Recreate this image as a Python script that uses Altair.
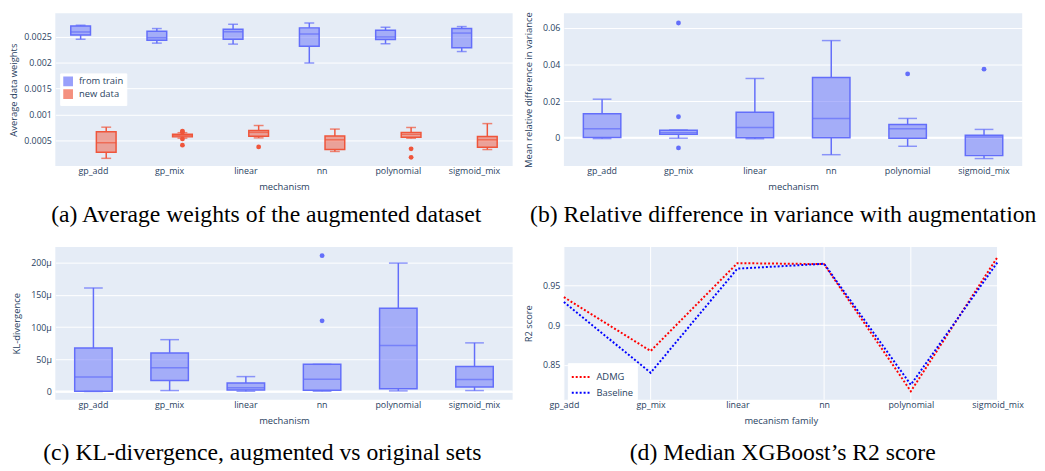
import altair as alt
import pandas as pd

# ---------------- data ----------------
mechs = ["gp_add", "gp_mix", "linear", "nn", "polynomial", "sigmoid_mix"]
groups_a = ["from train", "new data"]

# (a) Average data weights: from train
a_tr_lo = [0.00245, 0.002375, 0.002356, 0.001994, 0.002363, 0.002213]
a_tr_q1 = [0.00253, 0.00243, 0.00245, 0.002313, 0.002444, 0.002288]
a_tr_md = [0.00259, 0.00248, 0.002594, 0.00255, 0.002494, 0.002569]
a_tr_q3 = [0.002706, 0.002606, 0.002644, 0.002669, 0.002625, 0.002656]
a_tr_hi = [0.00272, 0.002656, 0.002738, 0.002763, 0.002681, 0.002694]
# (a) new data
a_nw_lo = [0.000156, 0.000544, 0.00055, 0.000288, 0.000544, 0.000325]
a_nw_q1 = [0.000275, 0.000569, 0.000581, 0.000325, 0.000563, 0.000369]
a_nw_md = [0.000456, 0.000595, 0.000656, 0.000513, 0.000619, 0.000513]
a_nw_q3 = [0.000669, 0.000619, 0.000694, 0.000588, 0.000656, 0.000575]
a_nw_hi = [0.000756, 0.00065, 0.000788, 0.000719, 0.00075, 0.000825]
a_out_mech = ["gp_mix", "gp_mix", "gp_mix", "gp_mix", "linear", "polynomial", "polynomial"]
a_out_val = [0.00068, 0.00066, 0.00053, 0.00041, 0.000375, 0.000338, 0.000175]

# (b) Mean relative difference in variance
b_lo = [-0.0004, -0.0002, -0.0005, -0.0092, -0.0046, -0.0113]
b_q1 = [0.0002, 0.0019, 0.0, 0.0, -0.0002, -0.0097]
b_md = [0.005, 0.0028, 0.0057, 0.0106, 0.005, 0.0005]
b_q3 = [0.0131, 0.0042, 0.014, 0.0329, 0.0073, 0.0014]
b_hi = [0.0211, 0.0043, 0.0324, 0.0531, 0.0106, 0.0046]
b_out_mech = ["gp_mix", "gp_mix", "gp_mix", "polynomial", "sigmoid_mix"]
b_out_val = [0.0627, 0.0115, -0.0055, 0.0349, 0.0375]

# (c) KL-divergence (in micro units)
c_lo = [0.0, 1.5, 0.5, 0.5, 1.0, 1.5]
c_q1 = [0.5, 17.1, 2.5, 2.0, 4.5, 7.0]
c_md = [22.7, 36.8, 6.0, 19.1, 71.5, 18.6]
c_q3 = [67.5, 60.0, 13.1, 42.3, 129.5, 38.8]
c_hi = [161.0, 80.6, 23.2, 42.3, 199.5, 75.6]
c_out_mech = ["nn", "nn"]
c_out_val = [211.0, 109.8]

# (d) Median R2 score
series_d = ["ADMG", "Baseline"]
d_admg = [0.935, 0.8675, 0.9776, 0.9764, 0.817, 0.9854]
d_base = [0.9289, 0.8402, 0.9707, 0.9768, 0.8252, 0.9789]

# ---------------- styling ----------------
BLUE = "#636efa"
RED = "#EF553B"
FONT = "Open Sans"
TXT = "#2a3f5f"
SERIF = "Liberation Serif"
SW = 1.5
CAP = 24


def box_rows(group, lo, q1, md, q3, hi):
    return [dict(mechanism=m, group=group, lo=a, q1=b, med=c, q3=d, hi=e)
            for m, a, b, c, d, e in zip(mechs, lo, q1, md, q3, hi)]


def xaxis(title):
    return alt.Axis(title=title, labelAngle=0, labelPadding=1, titlePadding=6)


def box_panel(df, out, ysc, ytitle, ytick, yfmt, bw, offset=None, color=None,
              label_expr=None, zero=False, ytpad=9):
    def Y(field):
        if label_expr:
            ax = alt.Axis(title=ytitle, values=ytick, labelExpr=label_expr,
                          labelPadding=4, titlePadding=ytpad)
        else:
            ax = alt.Axis(title=ytitle, values=ytick, format=yfmt,
                          labelPadding=4, titlePadding=ytpad)
        return alt.Y(field, scale=ysc, axis=ax)

    X = alt.X("mechanism:N", sort=mechs, scale=alt.Scale(paddingInner=0, paddingOuter=0),
              axis=xaxis("mechanism"))
    enc = dict(x=X)
    if offset is not None:
        enc["xOffset"] = offset
    if color is not None:
        enc["color"] = color
    base = alt.Chart(df).encode(**enc)
    kw = {} if color is not None else {"color": BLUE}
    layers = []
    if zero:
        layers.append(alt.Chart(pd.DataFrame({"z": [0.0]})).mark_rule(color="white", strokeWidth=2)
                      .encode(y=Y("z:Q")))
    layers += [
        base.mark_bar(width=bw, fillOpacity=0.5, strokeOpacity=0, **kw).encode(y=Y("q1:Q"), y2="q3:Q"),
        base.mark_rule(strokeWidth=SW, **kw).encode(y=Y("lo:Q"), y2="q1:Q"),
        base.mark_rule(strokeWidth=SW, **kw).encode(y=Y("q3:Q"), y2="hi:Q"),
        base.mark_tick(size=bw / 2, thickness=SW, **kw).encode(y=Y("lo:Q")),
        base.mark_tick(size=bw / 2, thickness=SW, **kw).encode(y=Y("hi:Q")),
        base.mark_bar(width=bw, filled=False, strokeWidth=SW, **kw).encode(y=Y("q1:Q"), y2="q3:Q"),
        base.mark_tick(size=bw, thickness=SW, **kw).encode(y=Y("med:Q")),
    ]
    penc = dict(x=X, y=Y("value:Q"))
    if offset is not None:
        penc["xOffset"] = offset
    if color is not None:
        penc["color"] = color
    layers.append(alt.Chart(out).mark_circle(size=24, opacity=1, **kw).encode(**penc))
    return alt.layer(*layers)


# ---- panel (a)
df_a = pd.DataFrame(box_rows("from train", a_tr_lo, a_tr_q1, a_tr_md, a_tr_q3, a_tr_hi)
                    + box_rows("new data", a_nw_lo, a_nw_q1, a_nw_md, a_nw_q3, a_nw_hi))
out_a = pd.DataFrame({"mechanism": a_out_mech, "group": ["new data"] * len(a_out_mech), "value": a_out_val})
off_a = alt.XOffset("group:N", sort=groups_a,
                    scale=alt.Scale(domain=groups_a, paddingInner=0, paddingOuter=0.49))
col_a = alt.Color("group:N", sort=groups_a,
                  scale=alt.Scale(domain=groups_a, range=[BLUE, RED]),
                  legend=alt.Legend(title=None, orient="none", legendX=5, legendY=61,
                                    fillColor="white", padding=3, symbolType="square",
                                    symbolSize=70, symbolStrokeWidth=1.5, symbolOpacity=0.65,
                                    rowPadding=-3, labelFont=FONT, labelFontSize=9.5,
                                    labelColor=TXT, labelOffset=6))
panel_a = box_panel(df_a, out_a,
                    alt.Scale(domain=[0.000007, 0.00295], nice=False, zero=False),
                    "Average data weights", [0.0005, 0.001, 0.0015, 0.002, 0.0025], "~g",
                    20, offset=off_a, color=col_a, ytpad=5).properties(
    width=464, height=155,
    title=alt.Title("(a) Average weights of the augmented dataset", orient="bottom",
                    offset=12, dx=-18))

# ---- panel (b)
df_b = pd.DataFrame(box_rows("b", b_lo, b_q1, b_md, b_q3, b_hi))
out_b = pd.DataFrame({"mechanism": b_out_mech, "value": b_out_val})
panel_b = box_panel(df_b, out_b,
                    alt.Scale(domain=[-0.0154, 0.068], nice=False, zero=False),
                    "Mean relative difference in variance", [0, 0.02, 0.04, 0.06], "~g",
                    38, zero=True).properties(
    width=465, height=155,
    title=alt.Title("(b) Relative difference in variance with augmentation", orient="bottom",
                    offset=12, dx=-10))

# ---- panel (c)
df_c = pd.DataFrame(box_rows("c", c_lo, c_q1, c_md, c_q3, c_hi))
out_c = pd.DataFrame({"mechanism": c_out_mech, "value": c_out_val})
panel_c = box_panel(df_c, out_c,
                    alt.Scale(domain=[-12.6, 224.7], nice=False, zero=False),
                    "KL-divergence", [0, 50, 100, 150, 200], None,
                    38, label_expr="datum.value == 0 ? '0' : datum.label + 'μ'", zero=True).properties(
    width=464, height=155,
    title=alt.Title("(c) KL-divergence, augmented vs original sets", orient="bottom",
                    offset=17, dx=-22))

# ---- panel (d)
df_d = pd.DataFrame({"mechanism": mechs * 2,
                     "series": ["ADMG"] * len(mechs) + ["Baseline"] * len(mechs),
                     "r2": d_admg + d_base})
x_d = alt.X("mechanism:N", sort=mechs, scale=alt.Scale(type="point", padding=0),
            axis=xaxis("mecanism family"))
y_d = alt.Y("r2:Q", scale=alt.Scale(domain=[0.8065, 0.998], nice=False, zero=False),
            axis=alt.Axis(title="R2 score", values=[0.85, 0.9, 0.95], format="~g",
                          labelPadding=4, titlePadding=9))
grid_d = alt.Chart(pd.DataFrame({"mechanism": mechs})).mark_rule(
    color="white", strokeWidth=1).encode(x=x_d)
lines_d = alt.Chart(df_d).mark_line(strokeDash=[2, 2], strokeWidth=2).encode(
    x=x_d, y=y_d,
    color=alt.Color("series:N", sort=series_d,
                    scale=alt.Scale(domain=series_d, range=["red", "blue"]),
                    legend=alt.Legend(title=None, orient="none", legendX=4, legendY=118,
                                      fillColor="white", padding=3, symbolType="stroke",
                                      symbolSize=400, symbolStrokeWidth=2, symbolDash=[2, 2],
                                      rowPadding=-2, labelFont=FONT, labelFontSize=9.5,
                                      labelColor=TXT)),
)
panel_d = alt.layer(grid_d, lines_d).properties(
    width=440, height=155,
    title=alt.Title("(d) Median XGBoost’s R2 score", orient="bottom", offset=17, dx=2))

chart = alt.concat(panel_a, panel_b, panel_c, panel_d, columns=2,
                   spacing=alt.RowColnumber(row=82, column=52), bounds="flush").resolve_scale(
    color="independent", x="independent", y="independent"
).properties(padding=0).configure_view(
    fill="#E5ECF6", strokeWidth=0
).configure_axis(
    domain=False, ticks=False, grid=True, gridColor="white", gridWidth=1,
    labelFont=FONT, labelFontSize=9, labelColor=TXT,
    titleFont=FONT, titleFontSize=9.5, titleColor=TXT, titleFontWeight="normal"
).configure_axisX(grid=False).configure_title(
    font=SERIF, fontSize=CAP, color="black", fontWeight="normal", anchor="middle"
).configure_legend(strokeColor="white")

chart.save("out.html", embed_options={"renderer": "svg", "actions": False})
